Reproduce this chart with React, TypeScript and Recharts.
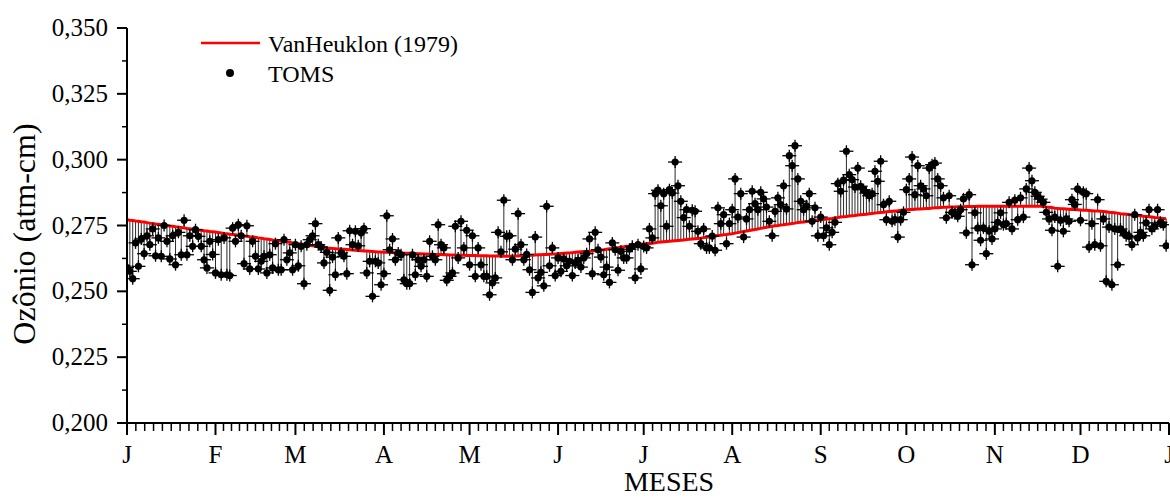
import { ComposedChart, Line, XAxis, YAxis, ErrorBar, Legend } from 'recharts';

const FONT = "'Liberation Serif', 'Times New Roman', serif";
const TXT = { fontFamily: FONT };

const monthLabels = ['J', 'F', 'M', 'A', 'M', 'J', 'J', 'A', 'S', 'O', 'N', 'D', 'J'];
const monthStarts = [0, 31, 59, 90, 120, 151, 181, 212, 243, 273, 304, 334, 365];
const yMajor = [0.2, 0.225, 0.25, 0.275, 0.3, 0.325, 0.35];

// TOMS daily ozone, milli atm-cm (day 0 = 1 Jan)
const toms = [
  259, 257.6, 254.8, 268.4, 259.5, 269.9, 264.3, 271.1, 267.7, 273.7,
  263.5, 270.3, 263.3, 275, 269, 262.3, 271.1, 260.1, 272.4, 263.9,
  277, 263.9, 271.1, 267.1, 273.4, 270.9, 267.1, 262, 258.9, 269,
  264, 257, 269.6, 256.3, 270.3, 256.3, 256, 274, 269, 275.3,
  271.1, 260.5, 274.9, 258.5, 269, 263.3, 258.5, 261.4, 263.3, 257,
  263.9, 258.9, 268.1, 258.2, 258.2, 269.6, 262, 264.6, 258.2, 267.7,
  259.7, 267.1, 252.9, 267.7, 269.6, 271.1, 275.7, 267.7, 266.8, 260.8,
  264.8, 250.4, 263, 256.3, 270.3, 264.6, 263.3, 256.7, 273, 267.7,
  272.8, 267.3, 272.2, 273.8, 257, 261.4, 248.1, 261.4, 260.8, 252.5,
  256.7, 278.7, 265.8, 269.9, 262, 264.6, 263.9, 254.4, 252.9, 252.9,
  263.9, 256.3, 262, 259.5, 262, 255.7, 269, 263.3, 262, 275.3,
  267.7, 266.5, 254.2, 255.7, 257, 274.7, 262.7, 276.6, 266.5, 273.2,
  260.1, 271.1, 255.7, 266.5, 260.1, 255.7, 255.7, 248.7, 253.2, 255.1,
  272.4, 265, 284.6, 270.9, 271.1, 262, 266, 279.5, 267.7, 262,
  264, 258.2, 249.6, 270.6, 255.1, 257.2, 252.1, 282.3, 259.7, 266.5,
  256, 262.7, 257.6, 262.3, 259.7, 261.4, 256, 260.8, 261.8, 259.2,
  262.7, 264.3, 269.9, 256.7, 272.4, 265.8, 263, 256.3, 259.2, 253.4,
  268.4, 265.8, 258, 265.2, 262.7, 262.7, 266, 267.1, 255.1, 267.7,
  258.5, 267, 266.5, 273.7, 270.3, 287.1, 288.4, 282.5, 287.1, 274.7,
  288.6, 287.3, 299.1, 290.1, 284.2, 278, 281, 274.7, 280.8, 280.4,
  272.8, 268.1, 273.7, 266.5, 266.5, 271, 265.6, 281.7, 275.7, 279.1,
  268.1, 275.7, 281, 292.7, 278.2, 287.1, 270.6, 277.5, 281, 288,
  283.3, 281, 287.6, 285.1, 282, 276.6, 271.1, 280.4, 285.5, 282.9,
  290.1, 281.3, 301.5, 297.7, 305.3, 292.7, 284.2, 281, 282.5, 287.1,
  276.6, 281.7, 271.1, 278.2, 271.1, 274.1, 267.7, 272.4, 276.2, 290.9,
  288, 292.2, 303.2, 294.3, 292.4, 289.6, 296.8, 289.9, 288.6, 287.3,
  286.3, 287.1, 295.6, 291.8, 299.4, 282.9, 277.2, 284.2, 276.6, 277.2,
  270.6, 277.2, 280, 288.6, 292.7, 301, 286.7, 297.7, 290.1, 288.9,
  286.3, 296.8, 298.1, 298.7, 292.7, 290.1, 285.5, 277.9, 286.3, 280,
  279.5, 278.5, 281, 285.1, 272.2, 286.7, 260.1, 279.8, 274, 269.4,
  274.1, 264.3, 272.8, 269.9, 273.7, 276.2, 279.8, 275.3, 275.7, 283.8,
  273.7, 284.6, 277.2, 285.5, 278.2, 288.9, 296.8, 292, 287.6, 286.1,
  285, 283.8, 280, 277.5, 273.2, 278.2, 259.5, 277, 272.8, 277.5,
  276.6, 284.8, 283, 288.9, 277, 287.6, 287.1, 266.8, 275.7, 267.7,
  284.8, 267.3, 277.5, 253.8, 274.4, 252.5, 273.7, 260.1, 273.7, 272.4,
  271.1, 270.9, 267.7, 279.1, 270.3, 272.4, 271.1, 276, 281, 273.7,
  274.7, 281, 276.2, 275.3, 267.3,
];

// VanHeuklon (1979) model, milli atm-cm, same days
const vanHeuklon = [
  277.2, 277.0, 276.9, 276.7, 276.6, 276.4, 276.3, 276.1, 275.9, 275.8,
  275.6, 275.5, 275.3, 275.2, 275.0, 274.8, 274.7, 274.5, 274.4, 274.2,
  274.1, 273.9, 273.8, 273.6, 273.5, 273.3, 273.2, 273.0, 272.9, 272.7,
  272.6, 272.5, 272.3, 272.2, 272.0, 271.9, 271.7, 271.6, 271.5, 271.3,
  271.2, 271.0, 270.9, 270.7, 270.6, 270.5, 270.3, 270.2, 270.0, 269.9,
  269.7, 269.5, 269.4, 269.2, 269.1, 268.9, 268.7, 268.6, 268.4, 268.3,
  268.1, 268.0, 267.8, 267.6, 267.5, 267.3, 267.2, 267.0, 266.8, 266.7,
  266.5, 266.4, 266.3, 266.2, 266.1, 266.0, 266.0, 265.9, 265.8, 265.7,
  265.6, 265.5, 265.4, 265.3, 265.3, 265.2, 265.1, 265.0, 264.9, 264.9,
  264.8, 264.8, 264.7, 264.7, 264.6, 264.6, 264.6, 264.5, 264.5, 264.5,
  264.4, 264.4, 264.3, 264.3, 264.2, 264.2, 264.1, 264.1, 264.0, 264.0,
  264.0, 263.9, 263.9, 263.8, 263.8, 263.8, 263.7, 263.7, 263.7, 263.6,
  263.6, 263.6, 263.6, 263.5, 263.5, 263.5, 263.5, 263.4, 263.4, 263.4,
  263.4, 263.3, 263.3, 263.3, 263.3, 263.3, 263.4, 263.4, 263.5, 263.5,
  263.6, 263.7, 263.7, 263.8, 263.9, 263.9, 264.0, 264.0, 264.1, 264.2,
  264.2, 264.3, 264.4, 264.5, 264.6, 264.6, 264.7, 264.8, 264.9, 265.0,
  265.1, 265.1, 265.2, 265.3, 265.4, 265.5, 265.7, 265.8, 266.0, 266.2,
  266.3, 266.5, 266.6, 266.8, 266.9, 267.1, 267.2, 267.4, 267.6, 267.7,
  267.9, 268.0, 268.1, 268.2, 268.3, 268.4, 268.6, 268.7, 268.8, 268.9,
  269.0, 269.1, 269.2, 269.3, 269.4, 269.5, 269.7, 269.8, 269.9, 270.0,
  270.1, 270.2, 270.4, 270.5, 270.7, 270.8, 271.0, 271.2, 271.3, 271.5,
  271.6, 271.8, 271.9, 272.1, 272.3, 272.5, 272.7, 272.9, 273.1, 273.3,
  273.5, 273.7, 273.9, 274.1, 274.3, 274.5, 274.7, 274.9, 275.0, 275.2,
  275.3, 275.5, 275.6, 275.8, 275.9, 276.1, 276.2, 276.3, 276.5, 276.6,
  276.8, 276.9, 277.1, 277.2, 277.3, 277.5, 277.6, 277.7, 277.9, 278.0,
  278.2, 278.3, 278.4, 278.6, 278.7, 278.8, 279.0, 279.1, 279.2, 279.3,
  279.5, 279.6, 279.7, 279.8, 279.9, 280.0, 280.2, 280.3, 280.4, 280.5,
  280.6, 280.8, 280.9, 281.0, 281.1, 281.1, 281.2, 281.3, 281.3, 281.4,
  281.5, 281.5, 281.6, 281.7, 281.7, 281.8, 281.9, 281.9, 282.0, 282.0,
  282.0, 282.1, 282.1, 282.1, 282.2, 282.2, 282.2, 282.2, 282.3, 282.3,
  282.3, 282.3, 282.3, 282.3, 282.3, 282.3, 282.3, 282.3, 282.3, 282.3,
  282.3, 282.3, 282.3, 282.3, 282.3, 282.3, 282.3, 282.3, 282.3, 282.3,
  282.3, 282.2, 282.0, 281.9, 281.8, 281.6, 281.5, 281.4, 281.4, 281.3,
  281.2, 281.1, 281.1, 281.0, 280.9, 280.8, 280.8, 280.7, 280.6, 280.5,
  280.5, 280.4, 280.3, 280.2, 280.0, 279.9, 279.8, 279.7, 279.5, 279.4,
  279.3, 279.2, 279.0, 278.9, 278.8, 278.7, 278.5, 278.4, 278.3, 278.2,
  278.0, 277.9, 277.8, 277.7, 277.6,
];

const data = toms.map((t, i) => {
  const m = vanHeuklon[i];
  return {
    day: i,
    toms: t / 1000,
    model: m / 1000,
    // drop line from the model curve to the TOMS point
    drop: t >= m ? [0, (t - m) / 1000] : [(m - t) / 1000, 0],
  };
});

// 10 minor divisions per month, like the original axis
const xTicks: number[] = [];
monthStarts.forEach((s, i) => {
  xTicks.push(s);
  if (i < monthStarts.length - 1) {
    const len = monthStarts[i + 1] - s;
    for (let k = 1; k < 10; k++) xTicks.push(s + (k * len) / 10);
  }
});

const yTicks: number[] = [];
yMajor.forEach((v, i) => {
  yTicks.push(v);
  if (i < yMajor.length - 1) yTicks.push((v + yMajor[i + 1]) / 2);
});

function XTick({ x, y, payload }: any) {
  const idx = monthStarts.indexOf(payload.value);
  if (idx < 0) {
    return <line x1={x} x2={x} y1={y} y2={y + 8} stroke="#000" strokeWidth={1.5} />;
  }
  return (
    <g>
      <line x1={x} x2={x} y1={y} y2={y + 12} stroke="#000" strokeWidth={2} />
      <text x={x} y={y + 40} textAnchor="middle" fontSize={25} fontFamily={FONT} style={TXT} fill="#000">
        {monthLabels[idx]}
      </text>
    </g>
  );
}

function YTick({ x, y, payload }: any) {
  const major = Math.round(payload.value * 1000) % 25 === 0;
  if (!major) {
    return <line x1={x - 5} x2={x} y1={y} y2={y} stroke="#000" strokeWidth={1.5} />;
  }
  return (
    <g>
      <line x1={x - 10} x2={x} y1={y} y2={y} stroke="#000" strokeWidth={2} />
      <text x={x - 19} y={y} dy={8} textAnchor="end" fontSize={25} fontFamily={FONT} style={TXT} fill="#000">
        {payload.value.toFixed(3).replace('.', ',')}
      </text>
    </g>
  );
}

function TomsDot(props: any) {
  const { cx, cy, index } = props;
  if (cx == null || cy == null) return <g key={`t${index}`} />;
  return (
    <g key={`t${index}`}>
      <line x1={cx - 7} x2={cx + 7} y1={cy} y2={cy} stroke="#000" strokeWidth={1.3} />
      <line x1={cx} x2={cx} y1={cy - 6} y2={cy + 6} stroke="#000" strokeWidth={1.3} />
      <circle cx={cx} cy={cy} r={3.6} fill="#000" />
    </g>
  );
}

function LegendBox({ payload }: any) {
  // model line first, then the TOMS marker, as in the original
  const items = (payload || [])
    .filter((p: any) => p.type !== 'none')
    .sort((a: any, b: any) => (a.type === 'line' ? -1 : 0) - (b.type === 'line' ? -1 : 0));
  return (
    <svg width={300} height={70} style={{ overflow: 'visible' }}>
      {items.map((p: any, i: number) => (
        <g key={p.value} transform={`translate(0, ${i * 30})`}>
          {p.type === 'line' ? (
            <line x1={6} x2={65} y1={18} y2={18} stroke={p.color} strokeWidth={2.5} />
          ) : (
            <circle cx={35} cy={18} r={4} fill="#000" />
          )}
          <text x={73} y={27} fontSize={24} fontFamily={FONT} style={TXT} fill="#000">
            {p.value}
          </text>
        </g>
      ))}
    </svg>
  );
}

export default function App() {
  return (
    <div style={{ position: 'absolute', left: 0, top: 0, background: '#fff', fontFamily: FONT }}>
      <ComposedChart
        width={1170}
        height={498}
        data={data}
        margin={{ top: 28, right: 1, bottom: 0, left: 0 }}
        style={{ fontFamily: FONT }}
      >
        <XAxis
          dataKey="day"
          type="number"
          domain={[0, 365]}
          ticks={xTicks}
          interval={0}
          height={75}
          tickSize={0}
          tickMargin={0}
          tick={<XTick />}
          axisLine={{ stroke: '#000', strokeWidth: 2 }}
          allowDataOverflow
          label={() => (
            <text x={669} y={491} textAnchor="middle" fontSize={28} fontFamily={FONT} style={TXT} fill="#000">
              MESES
            </text>
          )}
        />
        <YAxis
          type="number"
          domain={[0.2, 0.35]}
          ticks={yTicks}
          interval={0}
          width={127}
          tickSize={0}
          tickMargin={0}
          tick={<YTick />}
          axisLine={{ stroke: '#000', strokeWidth: 2 }}
          allowDataOverflow
          label={() => (
            <text
              x={35}
              y={234}
              transform="rotate(-90 35 234)"
              textAnchor="middle"
              fontSize={32}
              fontFamily={FONT}
              style={TXT}
              fill="#000"
            >
              Ozônio (atm-cm)
            </text>
          )}
        />
        <Legend
          layout="vertical"
          align="center"
          verticalAlign="middle"
          wrapperStyle={{ left: 195, top: 25, width: 300 }}
          content={<LegendBox />}
        />
        <Line
          dataKey="model"
          stroke="none"
          dot={false}
          activeDot={false}
          legendType="none"
          isAnimationActive={false}
        >
          <ErrorBar dataKey="drop" width={0} stroke="#2b2b2b" strokeWidth={1} direction="y" />
        </Line>
        <Line
          dataKey="model"
          name="VanHeuklon (1979)"
          type="linear"
          stroke="#ff0000"
          strokeWidth={3}
          dot={false}
          activeDot={false}
          legendType="line"
          isAnimationActive={false}
        />
        <Line
          dataKey="toms"
          name="TOMS"
          stroke="none"
          dot={TomsDot}
          activeDot={false}
          legendType="circle"
          isAnimationActive={false}
        />
      </ComposedChart>
    </div>
  );
}
